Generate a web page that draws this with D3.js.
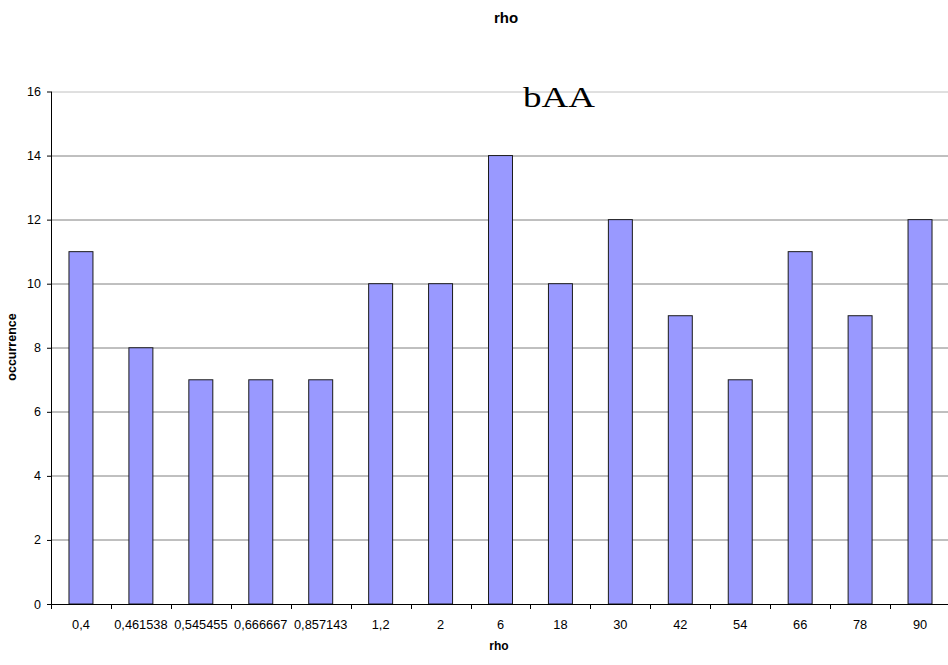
<!DOCTYPE html>
<html>
<head>
<meta charset="utf-8">
<script src="https://cdn.jsdelivr.net/npm/d3@7"></script>
<style>
  body { margin: 0; background: #fff; }
  svg { display: block; }
</style>
</head>
<body>
<div id="chart"></div>
<script>
// categories and occurrence counts
const categories = ['0,4', '0,461538', '0,545455', '0,666667', '0,857143', '1,2', '2', '6', '18', '30', '42', '54', '66', '78', '90'];
const occurrences = [11, 8, 7, 7, 7, 10, 10, 14, 10, 12, 9, 7, 11, 9, 12];
const yTicks = [0, 2, 4, 6, 8, 10, 12, 14, 16];

const W = 948, H = 665;
const margin = { top: 91.5, right: -2, bottom: 61, left: 51 };
const innerW = W - margin.left - margin.right;
const innerH = H - margin.top - margin.bottom;
const FONT = 'Arial, "Liberation Sans", sans-serif';

const svg = d3.select('#chart').append('svg')
  .attr('width', W).attr('height', H);

const x = d3.scaleBand(categories, [0, innerW]).paddingInner(0).paddingOuter(0);
const y = d3.scaleLinear([0, 16], [innerH, 0]);

const g = svg.append('g').attr('transform', `translate(${margin.left},${margin.top})`);

// gridlines
g.selectAll('line.grid').data(yTicks.filter(d => d > 0)).join('line')
  .attr('class', 'grid')
  .attr('x1', 0).attr('x2', innerW)
  .attr('y1', d => Math.round(y(d)) + 0.5).attr('y2', d => Math.round(y(d)) + 0.5)
  .attr('stroke', d => d === 16 ? '#c0c0c0' : '#808080').attr('stroke-width', 1);

// bars
const bw = x.bandwidth() * 0.4;
g.selectAll('rect.bar').data(occurrences).join('rect')
  .attr('class', 'bar')
  .attr('x', (d, i) => x(categories[i]) + (x.bandwidth() - bw) / 2)
  .attr('y', d => y(d))
  .attr('width', bw)
  .attr('height', d => y(0) - y(d))
  .attr('fill', '#9999FF').attr('stroke', '#1a1a1a').attr('stroke-width', 1);

// y axis
const yAxis = g.append('g').call(d3.axisLeft(y).tickValues(yTicks).tickSize(4).tickPadding(6));
yAxis.select('.domain').attr('d', `M0.5,0V${innerH}`).attr('stroke', '#000');
yAxis.selectAll('text').attr('font-family', FONT).attr('font-size', 12.5).attr('fill', '#000');

// x axis, ticks at band boundaries
const xg = g.append('g').attr('transform', `translate(0,${innerH})`);
xg.append('line').attr('x1', 0).attr('x2', innerW).attr('y1', 0.5).attr('y2', 0.5).attr('stroke', '#000');
xg.selectAll('line.tick').data(categories).join('line')
  .attr('class', 'tick')
  .attr('x1', d => Math.round(x(d)) + 0.5).attr('x2', d => Math.round(x(d)) + 0.5)
  .attr('y1', 0).attr('y2', 5).attr('stroke', '#000');
xg.selectAll('text').data(categories).join('text')
  .attr('x', d => x(d) + x.bandwidth() / 2).attr('y', 24.5)
  .attr('text-anchor', 'middle')
  .attr('font-family', FONT).attr('font-size', 12.8)
  .text(d => d);

// titles
svg.append('text').attr('x', 506).attr('y', 23).attr('text-anchor', 'middle')
  .attr('font-family', FONT).attr('font-size', 15).attr('font-weight', 'bold')
  .text('rho');
svg.append('text').attr('x', 499).attr('y', 650).attr('text-anchor', 'middle')
  .attr('font-family', FONT).attr('font-size', 12).attr('font-weight', 'bold')
  .text('rho');
svg.append('text').attr('transform', 'translate(16,347) rotate(-90)').attr('text-anchor', 'middle')
  .attr('font-family', FONT).attr('font-size', 12.5).attr('font-weight', 'bold')
  .text('occurrence');

// annotation
svg.append('text').attr('x', 523).attr('y', 107)
  .attr('font-family', '"Liberation Serif", "DejaVu Serif", serif').attr('font-size', 30)
  .attr('textLength', 72).attr('lengthAdjust', 'spacingAndGlyphs')
  .text('bAA');
</script>
</body>
</html>
